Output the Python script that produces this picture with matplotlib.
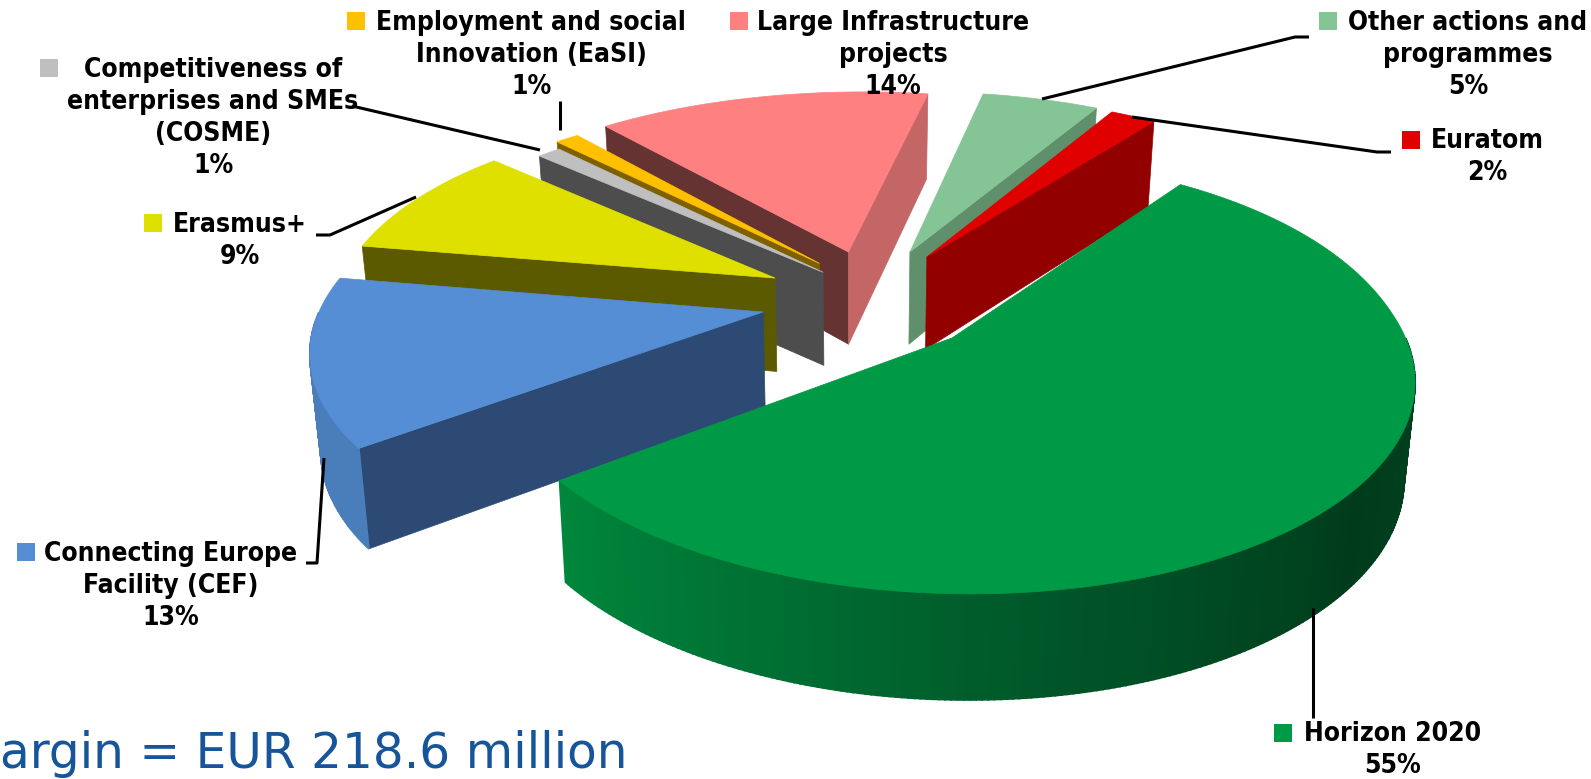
import numpy as np
import matplotlib
matplotlib.use('Agg')
import matplotlib.pyplot as plt

# pie data, clockwise from the start angle
names = ['Horizon 2020', 'Connecting Europe\nFacility (CEF)', 'Erasmus+',
         'Competitiveness of\nenterprises and SMEs\n(COSME)', 'Employment and social\nInnovation (EaSI)',
         'Large Infrastructure\nprojects', 'Other actions and\nprogrammes', 'Euratom']
values = [55, 13, 9, 1, 1, 14, 5, 2]

top_colors = ['#009A46', '#558ED5', '#E0E000', '#BFBFBF', '#FFC000', '#FF8080', '#85C595', '#E00000']
start_wall_colors = ['#005020', '#2C4A73', '#5C5A00', '#4D4D4D', '#7F6000', '#663333', '#5F8F6B', '#930000']
end_wall_colors = ['#005020', '#2C4A73', '#5C5A00', '#4D4D4D', '#7F6000', '#C46666', '#5F8F6B', '#930000']

# how far each slice is pulled out, in pie radii
explode_u = [0.203, -0.218, -0.198, -0.088, -0.098, -0.032, 0.113, 0.153]
explode_v = [-0.10, 0.0244, 0.195, 0.225, 0.272, 0.333, 0.333, 0.3066]
draw_order = [5, 6, 7, 4, 3, 2, 1, 0]

start_angle = 35
x0, y0 = 860, 317
A, B, k = 446, 206, 0.165
lean = 10
wall_h = 95


def project(u, v):
    w = 1 + k * v
    # far right side of the picture leans outward a little
    x = x0 + A * u / w + lean * np.maximum(v, 0) ** 1.5 * np.maximum(1 + u, 0)
    return x, y0 - B * v / w


def project_low(u, v):
    x, y = project(u, v)
    s = 1 / (1 + k * v)
    return x + (x0 - x) * 0.02, y + wall_h * s ** 0.55


def rim_color(i, theta):
    if i == 0:
        th = [90, 100, 130, 170, 200, 233]
        g = [72, 66, 60, 85, 110, 135]
        b = [34, 32, 28, 40, 50, 60]
        return (0, np.interp(theta, th, g) / 255, np.interp(theta, th, b) / 255)
    return (74 / 255, 126 / 255, 187 / 255)


fig = plt.figure(figsize=(15.91, 7.79), dpi=100)
ax = fig.add_axes([0, 0, 1, 1])
ax.set_xlim(0, 1591)
ax.set_ylim(779, 0)
ax.axis('off')

edges = start_angle + np.concatenate([[0], np.cumsum(values)]) / sum(values) * 360

for i in draw_order:
    t0, t1 = edges[i], edges[i + 1]
    cu, cv = explode_u[i], explode_v[i]
    ts = np.linspace(t0, t1, int((t1 - t0) * 1.5) + 2)
    us = cu + np.sin(np.radians(ts))
    vs = cv + np.cos(np.radians(ts))
    rim_top = np.array(project(us, vs)).T
    apex = np.array(project(cu, cv))
    apex_low = np.array(project_low(cu, cv))
    rim_low = np.array(project_low(us, vs)).T

    # radial walls, only when they face the viewer
    if np.sin(np.radians(t0)) < 0:
        ax.fill(*zip(apex, rim_top[0], rim_low[0], apex_low), color=start_wall_colors[i], lw=0.5)
    if np.sin(np.radians(t1)) > 0:
        ax.fill(*zip(apex, rim_top[-1], rim_low[-1], apex_low), color=end_wall_colors[i], lw=0.5)

    # outer wall, shaded by angle
    for j in range(len(ts) - 1):
        mid = (ts[j] + ts[j + 1]) / 2
        if np.cos(np.radians(mid)) < 0:
            ax.fill(*zip(rim_top[j], rim_top[j + 1], rim_low[j + 1], rim_low[j]), color=rim_color(i, mid % 360), lw=1.3)

    ax.fill(*zip(apex, *rim_top), color=top_colors[i], lw=0.5)

# label layout, centre of the text block and legend key
label_xy = [(1393, 750), (171, 586), (240, 241), (213, 118), (531, 55), (893, 55), (1468, 55), (1487, 157)]
key_xy = [(1283, 733), (26, 552), (153, 223), (49, 68), (356, 21), (739, 21), (1328, 21), (1411, 140)]

leaders = [
    [(1313, 608), (1313, 718)],
    [(324, 458), (317, 563), (306, 563)],
    [(416, 197), (330, 235), (316, 235)],
    [(540, 150), (352, 106)],
    [(560, 130), (560, 101)],
    [],
    [(1042, 99), (1295, 37), (1309, 37)],
    [(1132, 117), (1377, 152), (1391, 152)],
]

for i, name in enumerate(names):
    ax.text(label_xy[i][0], label_xy[i][1], f'{name}\n{values[i]}%', ha='center', va='center',
            fontsize=19, fontweight='bold', family='DejaVu Sans', stretch='condensed',
            linespacing=1.3, color='black', zorder=5)
    ax.scatter(*key_xy[i], marker='s', s=150, color=top_colors[i], linewidths=0, zorder=5)
    if leaders[i]:
        ax.plot(*zip(*leaders[i]), color='black', lw=2.2, zorder=4, solid_capstyle='butt')

ax.text(0, 768, 'argin = EUR 218.6 million', fontsize=35, family='DejaVu Sans', color='#17559B', ha='left', va='baseline')

fig.savefig('out.png', dpi=100)
